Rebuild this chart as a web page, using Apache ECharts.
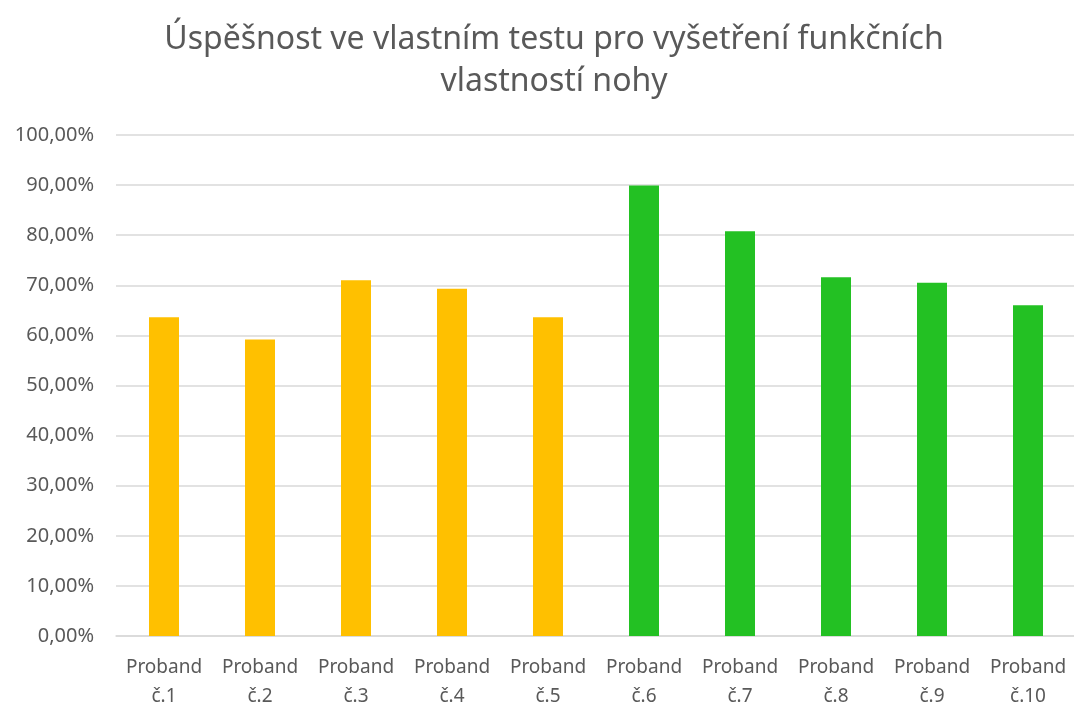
<!DOCTYPE html>
<html>
<head>
<meta charset="utf-8">
<script src="https://cdn.jsdelivr.net/npm/echarts@6/dist/echarts.min.js"></script>
<style>
  html, body { margin: 0; padding: 0; background: #fff; }
  #main { width: 1074px; height: 704px; }
</style>
</head>
<body>
<div id="main"></div>
<script>
var myChart = echarts.init(document.getElementById('main'));

const categories = ['Proband\nč.1', 'Proband\nč.2', 'Proband\nč.3', 'Proband\nč.4', 'Proband\nč.5',
  'Proband\nč.6', 'Proband\nč.7', 'Proband\nč.8', 'Proband\nč.9', 'Proband\nč.10'];
// úspěšnost v %
const values = [63.6, 59.2, 71.0, 69.3, 63.6, 89.9, 80.8, 71.6, 70.5, 66.0];
const barColors = ['#FFC000', '#FFC000', '#FFC000', '#FFC000', '#FFC000',
  '#23C123', '#23C123', '#23C123', '#23C123', '#23C123'];

const data = values.map(function (v, i) {
  return { value: v, itemStyle: { color: barColors[i] } };
});

const option = {
  title: {
    text: 'Úspěšnost ve vlastním testu pro vyšetření funkčních\nvlastností nohy',
    left: 549,
    top: 14,
    textAlign: 'center',
    textStyle: {
      fontFamily: 'Noto Sans',
      fontSize: 32,
      fontWeight: 'normal',
      color: '#595959',
      lineHeight: 42
    }
  },
  grid: {
    left: 116,
    right: -2,
    top: 135,
    bottom: 68,
    containLabel: false,
    outerBoundsMode: 'none'
  },
  xAxis: {
    type: 'category',
    data: categories,
    axisTick: { show: false },
    axisLine: { lineStyle: { color: '#d9d9d9', width: 1.5 } },
    axisLabel: {
      color: '#595959',
      fontFamily: 'Noto Sans',
      fontSize: 19,
      lineHeight: 29,
      margin: 17,
      interval: 0
    }
  },
  yAxis: {
    type: 'value',
    min: 0,
    max: 100,
    interval: 10,
    axisLine: { show: false },
    axisTick: { show: false },
    splitLine: { lineStyle: { color: '#d9d9d9', width: 1.5 } },
    axisLabel: {
      color: '#595959',
      fontFamily: 'Noto Sans',
      fontSize: 20,
      margin: 22,
      formatter: function (v) {
        return v.toFixed(2).replace('.', ',') + '%';
      }
    }
  },
  series: [
    {
      type: 'bar',
      barWidth: 30,
      data: data
    }
  ]
};

myChart.setOption(option);
</script>
</body>
</html>
